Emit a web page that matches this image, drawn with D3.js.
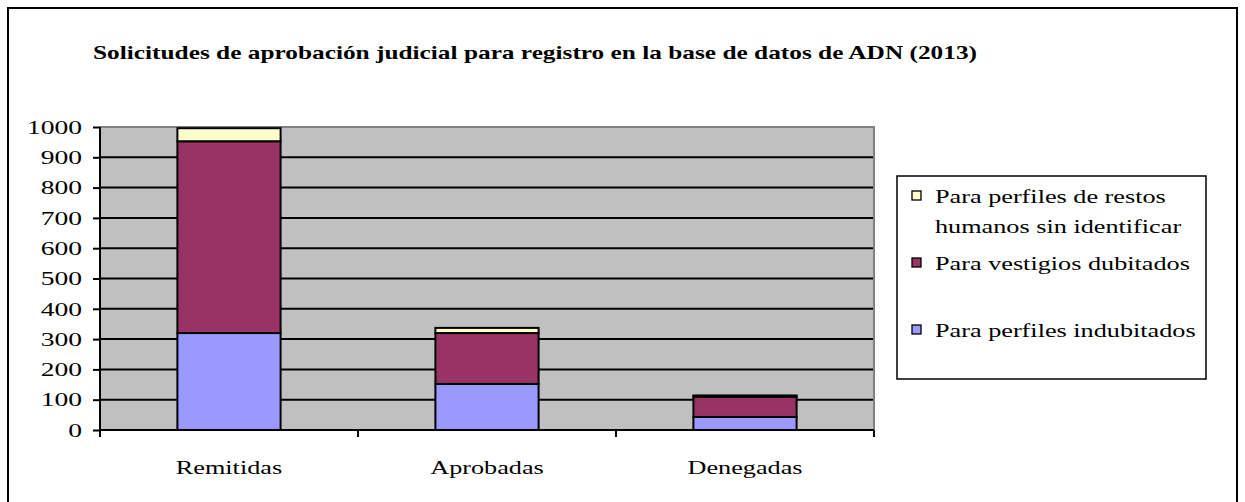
<!DOCTYPE html>
<html>
<head>
<meta charset="utf-8">
<script src="https://cdn.jsdelivr.net/npm/d3@7"></script>
<style>
  body { margin: 0; background: #fff; }
  text { font-family: "Liberation Serif", "Times New Roman", serif; fill: #000; }
</style>
</head>
<body>
<div id="chart"></div>
<script>
// data
const categories = ["Remitidas", "Aprobadas", "Denegadas"];
const seriesNames = [
  "Para perfiles indubitados",
  "Para vestigios dubitados",
  "Para perfiles de restos humanos sin identificar"
];
const indubitados = [320, 152, 43];
const dubitados = [633, 168, 67];
const restos = [43, 17, 4];
const yTicks = [0, 100, 200, 300, 400, 500, 600, 700, 800, 900, 1000];
const colors = ["#9999FF", "#993366", "#FFFFCC"];

const W = 1245, H = 502;
const margin = { top: 127, left: 100, right: 371, bottom: 72 };
const width = W - margin.left - margin.right;
const height = H - margin.top - margin.bottom;

const svg = d3.select("#chart").append("svg")
  .attr("width", W).attr("height", H);

// outer frame
svg.append("rect")
  .attr("x", 8).attr("y", 8).attr("width", 1229).attr("height", 520)
  .attr("fill", "none").attr("stroke", "#000").attr("stroke-width", 2);

// stretch text horizontally like the original
function stretch(sel, k) {
  sel.each(function () {
    const w = this.getComputedTextLength();
    d3.select(this).attr("textLength", w * k).attr("lengthAdjust", "spacingAndGlyphs");
  });
}

svg.append("text")
  .attr("x", 93).attr("y", 59)
  .style("font-size", "19px").style("font-weight", "bold")
  .text("Solicitudes de aprobación judicial para registro en la base de datos de ADN (2013)")
  .attr("textLength", 884).attr("lengthAdjust", "spacingAndGlyphs");

const g = svg.append("g").attr("transform", `translate(${margin.left},${margin.top})`);

const x = d3.scaleBand().domain(categories).range([0, width]).paddingInner(0.6).paddingOuter(0.3);
const y = d3.scaleLinear().domain([0, 1000]).range([height, 0]);

// plot background
g.append("rect").attr("width", width).attr("height", height).attr("fill", "#C0C0C0");

// gridlines
g.selectAll(".grid").data(yTicks.slice(1, -1)).join("line")
  .attr("x1", 0).attr("x2", width)
  .attr("y1", d => y(d)).attr("y2", d => y(d))
  .attr("stroke", "#000").attr("stroke-width", 2);

// top/right border of plot
g.append("path")
  .attr("d", `M0,${y(1000)}H${width}V${height}`)
  .attr("fill", "none").attr("stroke", "#808080").attr("stroke-width", 2);

// stacked bars
const table = categories.map((c, i) => ({
  cat: c, indubitados: indubitados[i], dubitados: dubitados[i], restos: restos[i]
}));
const keys = ["indubitados", "dubitados", "restos"];
const stacked = d3.stack().keys(keys)(table);

g.selectAll(".layer").data(stacked).join("g")
  .attr("fill", (d, i) => colors[i])
  .selectAll("rect").data(d => d).join("rect")
  .attr("x", d => x(d.data.cat))
  .attr("width", x.bandwidth())
  .attr("y", d => y(d[1]))
  .attr("height", d => y(d[0]) - y(d[1]))
  .attr("stroke", "#000").attr("stroke-width", 2);

// y axis
const yAxis = g.append("g")
  .call(d3.axisLeft(y).tickValues(yTicks).tickSize(7).tickPadding(11).tickFormat(d3.format("d")));
yAxis.select(".domain").attr("stroke", "#000").attr("stroke-width", 2).attr("d", `M0,0V${height}`);
yAxis.selectAll(".tick line").attr("stroke-width", 2);
yAxis.selectAll("text").style("font-size", "19px").attr("dy", "0.33em")
  .call(stretch, 1.45);

// x axis
const xAxis = g.append("g").attr("transform", `translate(0,${height})`);
xAxis.append("line").attr("x1", 0).attr("x2", width)
  .attr("stroke", "#000").attr("stroke-width", 2);
xAxis.selectAll(".xt").data(d3.range(categories.length + 1)).join("line")
  .attr("x1", i => i * width / categories.length)
  .attr("x2", i => i * width / categories.length)
  .attr("y1", 0).attr("y2", 7)
  .attr("stroke", "#000").attr("stroke-width", 2);
xAxis.selectAll(".xl").data(categories).join("text")
  .attr("x", d => x(d) + x.bandwidth() / 2)
  .attr("y", 44)
  .attr("text-anchor", "middle")
  .style("font-size", "19px")
  .text(d => d)
  .call(stretch, 1.38);

// legend
const legend = svg.append("g");
legend.append("rect")
  .attr("x", 897).attr("y", 176).attr("width", 309).attr("height", 203)
  .attr("fill", "#fff").attr("stroke", "#000").attr("stroke-width", 1.5);

const legendItems = [
  { lines: ["Para perfiles de restos", "humanos sin identificar"], color: colors[2], y: 203 },
  { lines: ["Para vestigios dubitados"], color: colors[1], y: 270 },
  { lines: ["Para perfiles indubitados"], color: colors[0], y: 337 }
];
legendItems.forEach(it => {
  legend.append("rect")
    .attr("x", 912).attr("y", it.y - 12).attr("width", 9).attr("height", 9)
    .attr("fill", it.color).attr("stroke", "#000").attr("stroke-width", 1.3);
  it.lines.forEach((ln, j) => {
    legend.append("text")
      .attr("x", 935).attr("y", it.y + j * 30)
      .style("font-size", "19px")
      .text(ln)
      .call(stretch, 1.38);
  });
});
</script>
</body>
</html>
